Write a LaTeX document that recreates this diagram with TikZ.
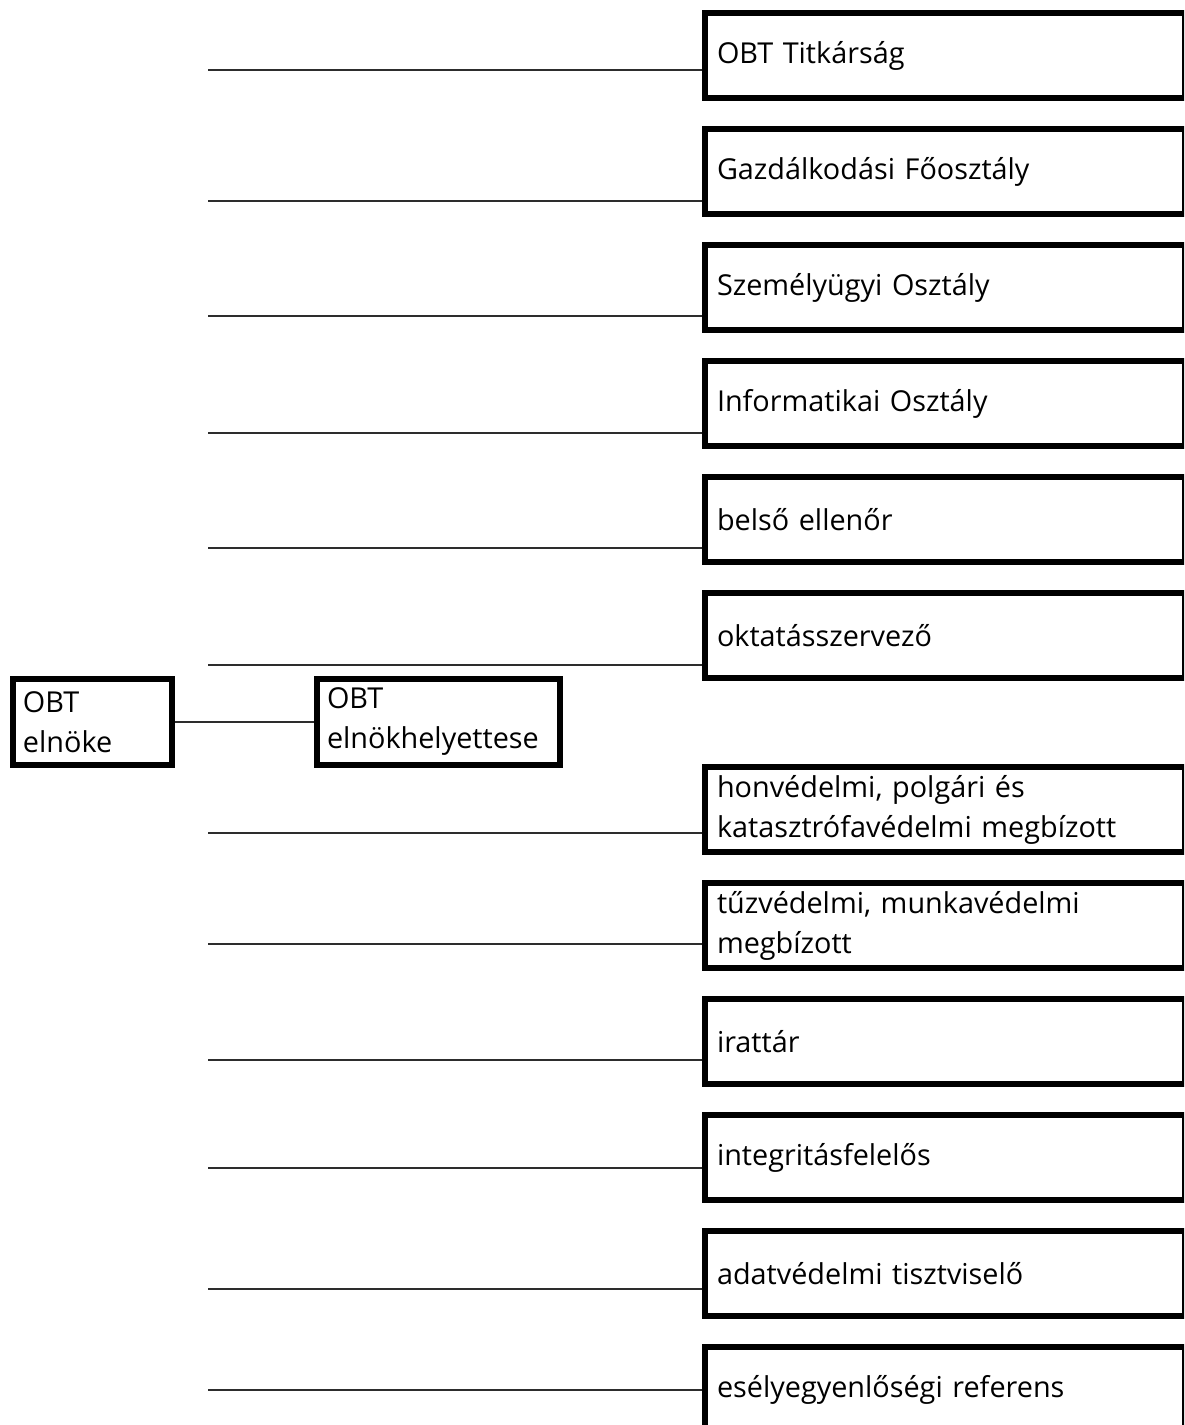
\documentclass[tikz,border=0pt]{standalone}
\usepackage{fontspec}
\setmainfont{Open Sans}
\begin{document}
\begin{tikzpicture}[x=1pt,y=-1pt,
  box/.style={draw=black,line width=6pt,rectangle,fill=white,
    minimum height=85pt,inner xsep=12pt,inner ysep=0pt,align=left,
    font=\fontsize{28.8}{40}\selectfont,anchor=north west},
  rbox/.style={box,minimum width=479.5pt,text width=455.5pt},
  conn/.style={draw={rgb,255:red,45;green,45;blue,45},line width=1.5pt}]
\useasboundingbox (0,0) rectangle (1184,1425);
\clip (0,0) rectangle (1184,1425);
\fill[white] (0,0) rectangle (1184,1425);

% right column boxes
\node[rbox] (b1) at (702,10) {OBT Titkárság};
\node[rbox] (b2) at (702,126) {Gazdálkodási Főosztály};
\node[rbox] (b3) at (702,242) {Személyügyi Osztály};
\node[rbox] (b4) at (702,358) {Informatikai Osztály};
\node[rbox] (b5) at (702,474) {belső ellenőr};
\node[rbox] (b6) at (702,590) {oktatásszervező};
\node[rbox] (b7) at (702,764) {honvédelmi, polgári és\\katasztrófavédelmi megbízott};
\node[rbox] (b8) at (702,880) {tűzvédelmi, munkavédelmi\\megbízott};
\node[rbox] (b9) at (702,996) {irattár};
\node[rbox] (b10) at (702,1112) {integritásfelelős};
\node[rbox] (b11) at (702,1228) {adatvédelmi tisztviselő};
\node[rbox] (b12) at (702,1344) {esélyegyenlőségi referens};

% left boxes
\node[box,minimum width=159pt,text width=139pt,inner xsep=10pt,minimum height=86pt] (e) at (10,676) {OBT\\elnöke};
\node[box,minimum width=243pt,text width=223pt,inner xsep=10pt,minimum height=86pt] (h) at (314,676) {OBT\\elnökhelyettese};

% connectors
\coordinate (l1) at (208,70);
\coordinate (l2) at (208,201);
\coordinate (l3) at (208,316);
\coordinate (l4) at (208,433);
\coordinate (l5) at (208,548);
\coordinate (l6) at (208,665);
\coordinate (l7) at (208,833);
\coordinate (l8) at (208,944);
\coordinate (l9) at (208,1060);
\coordinate (l10) at (208,1168);
\coordinate (l11) at (208,1289);
\coordinate (l12) at (208,1390);
\foreach \i in {1,...,12}{
  \draw[conn] (l\i) -- (l\i -| b\i.west);
}
\draw[conn] (e.east) -- (h.west);
\end{tikzpicture}
\end{document}
